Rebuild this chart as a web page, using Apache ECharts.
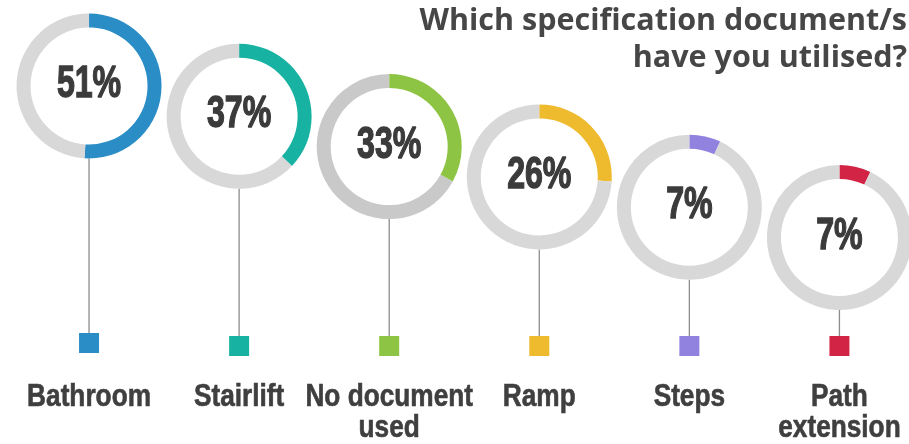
<!DOCTYPE html>
<html><head><meta charset="utf-8">
<script src="https://cdn.jsdelivr.net/npm/echarts@6/dist/echarts.min.js"></script>
<style>html,body{margin:0;padding:0;background:#fff}#c{width:909px;height:444px}</style>
</head><body><div id="c"></div>
<script>
// ---- data ----
const categories = ['Bathroom', 'Stairlift', 'No document\nused', 'Ramp', 'Steps', 'Path\nextension'];
const percentages = [51, 37, 33, 26, 7, 7];
const seriesColors = ['#2a8dc5', '#17b2a2', '#8ec444', '#eeba2e', '#9282df', '#d22545'];
const trackColors = ['#d8d8d8', '#d8d8d8', '#c9c9c9', '#d8d8d8', '#d8d8d8', '#d8d8d8'];
const titleText = 'Which specification document/s\nhave you utilised?';

// ---- layout (not data) ----
const FONT = "'Liberation Sans', Arial, sans-serif";
const OUTER_R = 72.5, INNER_R = 58.5;
const RING_Y0 = 86, RING_STEP = 30.3;
const SQ = 20;
function ringCy(i) { return RING_Y0 + i * RING_STEP; }
function squareTop(i) { return i === 0 ? 333 : 336; }

const chart = echarts.init(document.getElementById('c'), null, { renderer: 'canvas' });

const baseOption = {
  animation: false,
  backgroundColor: '#ffffff',
  graphic: [{
    type: 'text', x: 907, y: 3, silent: true,
    style: {
      text: titleText, align: 'right', verticalAlign: 'top',
      fontFamily: "'Open Sans', sans-serif", fontWeight: 'bold', fontSize: 30.5, lineHeight: 37, fill: '#464646'
    }
  }],
  // category slots are 150.5px wide; slot 0 starts at x=14
  grid: { left: 14, right: 0, top: 0, bottom: 69 },
  xAxis: { type: 'value', min: -0.5, max: 5.4635, show: false },
  yAxis: { type: 'value', show: false, min: 0, max: 1 },
  series: [{
    type: 'custom', silent: true,
    data: categories.map((c, i) => [i, 0]),
    renderItem: function (params, api) {
      const i = api.value(0);
      const x = api.coord([i, 0])[0];
      const cy = ringCy(i);
      const y1 = cy + OUTER_R;
      const y2 = squareTop(i);
      return {
        type: 'group',
        children: [
          { type: 'line', shape: { x1: x, y1: y1, x2: x, y2: y2 }, style: { stroke: '#8c8c8c', lineWidth: 1.3 } },
          { type: 'rect', shape: { x: x - SQ / 2, y: y2, width: SQ, height: SQ }, style: { fill: seriesColors[i] } },
          { type: 'text', x: x, y: cy - 1, scaleX: 0.73,
            style: { text: percentages[i] + '%', x: 0, y: 0, align: 'center', verticalAlign: 'middle',
                     fontFamily: FONT, fontWeight: 'bold', fontSize: 44, fill: '#3b3b3b',
                     stroke: '#3b3b3b', lineWidth: 1.4 } },
          { type: 'text', x: x, y: 382.5, scaleX: 0.86,
            style: { text: categories[i], x: 0, y: 0, align: 'center', verticalAlign: 'top', lineHeight: 31,
                     fontFamily: FONT, fontWeight: 'bold', fontSize: 30.5, fill: '#3f3f3f',
                     stroke: '#3f3f3f', lineWidth: 0.6 } }
        ]
      };
    }
  }]
};
chart.setOption(baseOption);

const pies = percentages.map((v, i) => {
  const cx = chart.convertToPixel({ xAxisIndex: 0 }, i);
  return {
    type: 'pie', silent: true,
    center: [cx, ringCy(i)], radius: [INNER_R, OUTER_R],
    startAngle: 90, clockwise: true, avoidLabelOverlap: false,
    emphasis: { disabled: true },
    label: { show: false }, labelLine: { show: false },
    data: [
      { value: v, itemStyle: { color: seriesColors[i] } },
      { value: 100 - v, itemStyle: { color: trackColors[i] } }
    ]
  };
});
chart.setOption({ series: baseOption.series.concat(pies) });
</script>
</body></html>
